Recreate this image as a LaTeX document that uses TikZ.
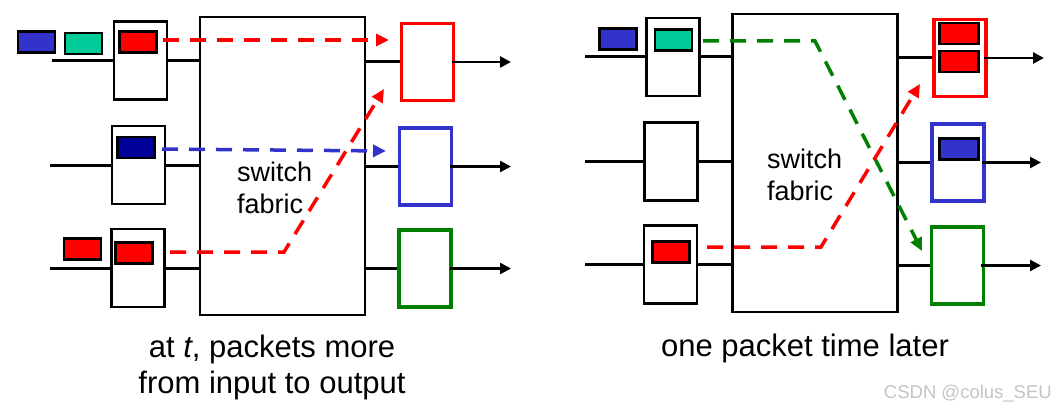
\documentclass[tikz,border=0pt]{standalone}
\usepackage{fontspec}
\setmainfont{Liberation Sans}
\usetikzlibrary{arrows.meta}
\definecolor{pblue}{HTML}{3333CC}
\definecolor{pteal}{HTML}{00CC99}
\definecolor{pred}{HTML}{FF0000}
\definecolor{pnavy}{HTML}{000099}
\definecolor{pgreen}{HTML}{008000}
\definecolor{wmgray}{HTML}{C4C4C4}
\begin{document}
\begin{tikzpicture}[x=1pt,y=-1pt,
  box/.style={draw=black, line width=2.5pt, minimum width=53pt, minimum height=78pt, inner sep=0pt},
  fab/.style={draw=black, line width=2.5pt, minimum width=165pt, minimum height=298pt, inner sep=0pt},
  obox/.style={line width=3.5pt, minimum width=52pt, minimum height=77pt, inner sep=0pt},
  pkt/.style={draw=black, line width=2.5pt, minimum width=37pt, minimum height=21pt, inner sep=0pt},
  wire/.style={line width=3pt},
  outarrow/.style={line width=2.5pt, -{Triangle[length=11pt,width=11pt]}},
  flow/.style={line width=3.5pt, dash pattern=on 16pt off 11pt, -{Triangle[length=13pt,width=12pt]}},
  lbl/.style={font=\fontsize{27}{32}\selectfont, anchor=base west, inner sep=0pt},
  captext/.style={font=\fontsize{31}{36}\selectfont, anchor=base, inner sep=0pt},
]
\useasboundingbox (0,0) rectangle (1056,409);

% ---------------- left panel ----------------
\node[fab] (fabL) at (282.5,166) {};
\node[box] (inL1) at (140.5,60.5) {};
\node[box] (inL2) at (138.5,165) {};
\node[box] (inL3) at (138,268) {};
\node[obox, draw=pred]   (outL1) at (427.5,62) {};
\node[obox, draw=pblue]  (outL2) at (425.5,166.5) {};
\node[obox, draw=pgreen] (outL3) at (425,268.5) {};

\coordinate (aL1) at (52,60.5);
\coordinate (aL2) at (50,165);
\coordinate (aL3) at (50,268);
\draw[wire] (aL1) -- (inL1.west);
\draw[wire] (aL2) -- (inL2.west);
\draw[wire] (aL3) -- (inL3.west);
\draw[wire] (inL1.east) -- (inL1.east -| fabL.west);
\draw[wire] (inL2.east) -- (inL2.east -| fabL.west);
\draw[wire] (inL3.east) -- (inL3.east -| fabL.west);
\draw[wire] (outL1.west -| fabL.east) -- (outL1.west);
\draw[wire] (outL2.west -| fabL.east) -- (outL2.west);
\draw[wire] (outL3.west -| fabL.east) -- (outL3.west);
\coordinate (eL1) at (511,61);
\coordinate (eL2) at (511,166.5);
\coordinate (eL3) at (511,268.5);
\draw[outarrow] ([xshift=-3pt]outL1.east) -- (eL1 |- outL1.east);
\draw[outarrow] ([xshift=-3pt]outL2.east) -- (eL2 |- outL2.east);
\draw[outarrow] ([xshift=-3pt]outL3.east) -- (eL3 |- outL3.east);

\node[pkt, fill=pblue] (pL1) at (36.5,42) {};
\node[pkt, fill=pteal] (pL2) at (83.5,43.5) {};
\node[pkt, fill=pred]  (pL3) at (138,42) {};
\node[pkt, fill=pnavy] (pL4) at (136,147.5) {};
\node[pkt, fill=pred]  (pL5) at (82.5,249) {};
\node[pkt, fill=pred]  (pL6) at (134,253) {};

\coordinate (fL1s) at (163,40);
\coordinate (fL1e) at (389,40);
\coordinate (fL2s) at (162,149);
\coordinate (fL2e) at (386,151);
\coordinate (fL3s) at (170,252);
\coordinate (fL3m) at (284,252);
\coordinate (fL3e) at (384,89);
\draw[flow, pred]  (fL1s) -- (fL1e);
\draw[flow, pblue] (fL2s) -- (fL2e);
\draw[flow, pred]  (fL3s) -- (fL3m) -- (fL3e);

\node[lbl, align=left] (swL) at (237,213) {switch\\fabric};

\node[captext] (capL1) at (272,357) {at \textit{t}, packets more};
\node[captext] (capL2) at (272,393) {from input to output};

% ---------------- right panel ----------------
\node[fab] (fabR) at (815,163) {};
\node[box] (inR1) at (673,57) {};
\node[box] (inR2) at (671,161.5) {};
\node[box] (inR3) at (670.5,264.5) {};
\node[obox, draw=pred]   (outR1) at (960,58) {};
\node[obox, draw=pblue]  (outR2) at (958,162.5) {};
\node[obox, draw=pgreen] (outR3) at (957.5,265.5) {};

\coordinate (aR1) at (585,57);
\coordinate (aR2) at (585,161.5);
\coordinate (aR3) at (585,264.5);
\draw[wire] (aR1) -- (inR1.west);
\draw[wire] (aR2) -- (inR2.west);
\draw[wire] (aR3) -- (inR3.west);
\draw[wire] (inR1.east) -- (inR1.east -| fabR.west);
\draw[wire] (inR2.east) -- (inR2.east -| fabR.west);
\draw[wire] (inR3.east) -- (inR3.east -| fabR.west);
\draw[wire] (outR1.west -| fabR.east) -- (outR1.west);
\draw[wire] (outR2.west -| fabR.east) -- (outR2.west);
\draw[wire] (outR3.west -| fabR.east) -- (outR3.west);
\coordinate (eR1) at (1044,57);
\coordinate (eR2) at (1041,159);
\coordinate (eR3) at (1041,263);
\draw[outarrow] ([xshift=-4pt]outR1.east) -- (eR1 |- outR1.east);
\draw[outarrow] ([xshift=-4pt]outR2.east) -- (eR2 |- outR2.east);
\draw[outarrow] ([xshift=-4pt]outR3.east) -- (eR3 |- outR3.east);

\node[pkt, fill=pblue] (pR1) at (618,39) {};
\node[pkt, fill=pteal] (pR2) at (673.5,40) {};
\node[pkt, fill=pred]  (pR3) at (671,252) {};
\node[pkt, fill=pred, minimum width=39pt]  (pR4) at (959,33.5) {};
\node[pkt, fill=pred, minimum width=39pt]  (pR5) at (959,61.5) {};
\node[pkt, fill=pblue, minimum width=39pt] (pR6) at (959,149) {};

\coordinate (fR1s) at (703,41);
\coordinate (fR1m) at (815,41);
\coordinate (fR1e) at (922,251);
\coordinate (fR2s) at (707,247);
\coordinate (fR2m) at (821,247);
\coordinate (fR2e) at (920,84);
\draw[flow, pgreen] (fR1s) -- (fR1m) -- (fR1e);
\draw[flow, pred]   (fR2s) -- (fR2m) -- (fR2e);

\node[lbl, align=left] (swR) at (767,200) {switch\\fabric};

\node[captext] (capR) at (805,356) {one packet time later};
\node[font=\fontsize{18.5}{22}\selectfont, text=wmgray, anchor=base east, inner sep=0pt] (wm) at (1052,398) {CSDN @colus\_SEU};
\end{tikzpicture}
\end{document}
